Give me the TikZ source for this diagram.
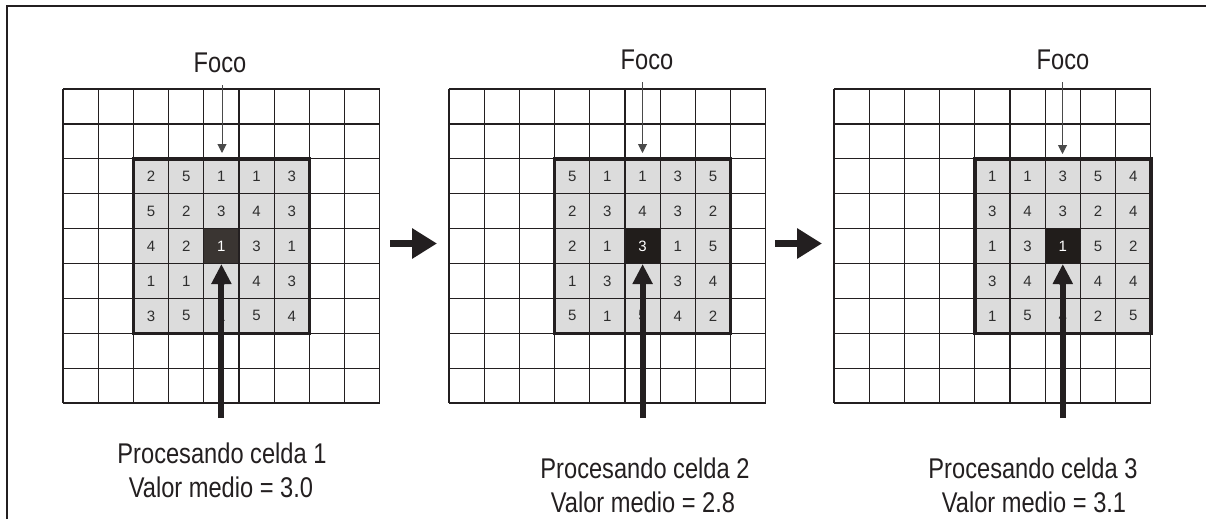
\documentclass[tikz,border=0pt]{standalone}
\usepackage{fontspec}
\setmainfont{Liberation Sans}[FakeStretch=0.83]
\newfontfamily\numfont{Liberation Sans}
\usetikzlibrary{arrows.meta}
\definecolor{ink}{HTML}{231F20}
\definecolor{cellgray}{HTML}{DCDCDC}
\definecolor{darkA}{HTML}{3A3532}
\definecolor{darkB}{HTML}{211D1B}
\definecolor{txt}{HTML}{2E2E2E}
\definecolor{thin}{HTML}{4A4A4A}
\tikzset{
  gridline/.style={draw=ink, line width=1.3pt},
  window/.style={draw=ink, line width=3.6pt, line join=miter},
  num/.style={inner sep=0pt, font=\numfont\fontsize{15}{17}\selectfont},
  lbl/.style={inner sep=0pt, anchor=base, text=ink, font=\fontsize{28.5}{34}\selectfont},
  focoarrow/.style={draw=thin, line width=1pt, -{Triangle[width=9pt,length=9pt]}},
  bigup/.style={draw=ink, line width=6pt, -{Triangle[width=19pt,length=20pt]}},
  bigright/.style={draw=ink, line width=7pt, -{Triangle[width=29pt,length=25pt]}},
}
\newcommand\gridpanel[5]{%
  \fill[cellgray] ({#1+#2*35.2},{89+2*34.9}) rectangle ++(5*35.2,5*34.9);
  \fill[#3] ({#1+(#2+2)*35.2},{89+4*34.9}) rectangle ++(35.2,34.9);
  \foreach \i in {0,...,9} {
    \draw[gridline] ({#1+\i*35.2},89) -- ++(0,9*34.9);
    \draw[gridline] (#1,{89+\i*34.9}) -- ++(9*35.2,0);
  }
  \draw[window] ({#1+#2*35.2},{89+2*34.9}) rectangle ++(5*35.2,5*34.9);
  \foreach \row [count=\r from 0] in {#5} {
    \foreach \v [count=\c from 0] in \row {
      \ifnum\r\c=22 \def\tc{white}\else\def\tc{txt}\fi
      \node[num, text=\tc] (#4-\r-\c) at ({#1+(#2+\c+0.5)*35.2},{89+(\r+2.5)*34.9}) {\v};
    }
  }
}
\begin{document}
\begin{tikzpicture}[x=1pt,y=-1pt]
\useasboundingbox (0,0) rectangle (1206,519);
\fill[white] (0,0) rectangle (1206,519);
\draw[ink, line width=1.5pt] (7,519) -- (7,6) -- (1206,6);

% panels
\gridpanel{63}{2}{darkA}{ga}{{2,5,1,1,3},{5,2,3,4,3},{4,2,1,3,1},{1,1,3,4,3},{3,5,1,5,4}}
\gridpanel{449}{3}{darkB}{gb}{{5,1,1,3,5},{2,3,4,3,2},{2,1,3,1,5},{1,3,4,3,4},{5,1,5,4,2}}
\gridpanel{834}{4}{darkB}{gc}{{1,1,3,5,4},{3,4,3,2,4},{1,3,1,5,2},{3,4,3,4,4},{1,5,4,2,5}}

% Foco labels and thin arrows
\node[lbl] (focoa) at (220,73) {Foco};
\node[lbl] (focob) at (647,69) {Foco};
\node[lbl] (fococ) at (1063,69) {Foco};
\coordinate (fa1) at (222,85);   \coordinate (fa2) at (222,153);
\coordinate (fb1) at (642.5,82); \coordinate (fb2) at (642.5,153);
\coordinate (fc1) at (1062.5,82); \coordinate (fc2) at (1062.5,154);
\draw[focoarrow] (fa1) -- (fa2);
\draw[focoarrow] (fb1) -- (fb2);
\draw[focoarrow] (fc1) -- (fc2);

% thick processing arrows
\coordinate (pa1) at (221.4,418); \coordinate (pa2) at (221.4,264);
\coordinate (pb1) at (642.6,418); \coordinate (pb2) at (642.6,264);
\coordinate (pc1) at (1062.8,418); \coordinate (pc2) at (1062.8,264);
\draw[bigup] (pa1) -- (pa2);
\draw[bigup] (pb1) -- (pb2);
\draw[bigup] (pc1) -- (pc2);

% arrows between panels
\coordinate (ra1) at (390,243.5); \coordinate (ra2) at (437,243.5);
\coordinate (rb1) at (775,243.5); \coordinate (rb2) at (822,243.5);
\draw[bigright] (ra1) -- (ra2);
\draw[bigright] (rb1) -- (rb2);

% captions
\node[lbl] (capa1) at (222,463) {Procesando celda 1};
\node[lbl] (capa2) at (221,497) {Valor medio = 3.0};
\node[lbl] (capb1) at (645,478) {Procesando celda 2};
\node[lbl] (capb2) at (643,512) {Valor medio = 2.8};
\node[lbl] (capc1) at (1033,478) {Procesando celda 3};
\node[lbl] (capc2) at (1034,512) {Valor medio = 3.1};
\end{tikzpicture}
\end{document}
